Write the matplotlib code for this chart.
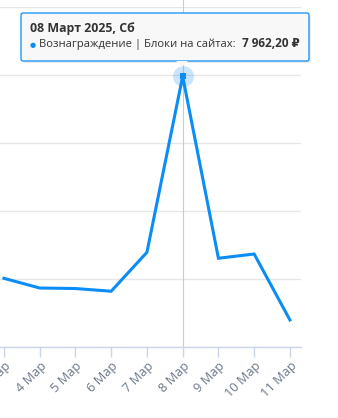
import matplotlib
matplotlib.use("Agg")
import matplotlib.pyplot as plt
from matplotlib.patches import FancyBboxPatch, Polygon

plt.rcParams['font.family'] = ['Open Sans', 'DejaVu Sans']

# data
dates = ['3 Мар', '4 Мар', '5 Мар', '6 Мар', '7 Мар', '8 Мар', '9 Мар', '10 Мар', '11 Мар']
reward = [2020, 1735, 1720, 1640, 2785, 7962.20, 2610, 2735, 795]
yticks = [0, 2000, 4000, 6000, 8000, 10000]
peak_idx = 5

blue = '#0b8df5'

fig = plt.figure(figsize=(3.38, 4.18), dpi=100)
W, H = 338, 418
ax = fig.add_axes([0 / W, (H - 347) / H, 301 / W, 340 / H])

x = list(range(len(dates)))
ax.plot(x, reward, color=blue, lw=2.2, solid_joinstyle='miter', zorder=3)

ax.set_xlim(-0.11, 8.31)
ax.set_ylim(0, 10000)
ax.set_yticks(yticks)
ax.yaxis.grid(True, color='#e6e6e6', lw=1)
ax.tick_params(axis='y', length=0, labelleft=False)
ax.set_xticks(x)
ax.set_xticklabels(dates, rotation=45, ha='right', va='top', rotation_mode='anchor',
                   fontsize=9.2, color='#6b7788')
ax.tick_params(axis='x', length=7, width=1, color='#ccd6eb', pad=2)
for s in ['top', 'right', 'left']:
    ax.spines[s].set_visible(False)
ax.spines['bottom'].set_color('#ccd6eb')
ax.spines['bottom'].set_linewidth(1)
ax.set_axisbelow(True)

# crosshair and hover marker
ax.axvline(peak_idx, color='#cccccc', lw=0.8, zorder=1, ymax=1.03, clip_on=False)
ax.plot([peak_idx], [reward[peak_idx]], 'o', ms=15, color=blue, alpha=0.22, mew=0, zorder=4)
ax.plot([peak_idx], [reward[peak_idx]], 's', ms=4, color=blue, mew=0, zorder=5)

# tooltip in pixel coordinates
ov = fig.add_axes([0, 0, 1, 1])
ov.set_xlim(0, W)
ov.set_ylim(H, 0)
ov.axis('off')
shadow = FancyBboxPatch((23, 15), 288, 48, boxstyle='round,pad=0,rounding_size=2',
                        fc='#000000', ec='none', alpha=0.08)
ov.add_patch(shadow)
box = FancyBboxPatch((21, 13), 288, 48, boxstyle='round,pad=0,rounding_size=2',
                     fc='#f8f8f8', ec=blue, lw=0.9)
ov.add_patch(box)
ov.add_patch(Polygon([[176, 61], [182, 67], [188, 61]], closed=True, fc='#f8f8f8', ec='none'))
ov.text(30, 32, '08 Март 2025, Сб', fontsize=8.9, fontweight='bold', color='#333333',
        va='baseline', ha='left')
ov.text(30, 47, '●', fontsize=5, color=blue, va='baseline', ha='left')
ov.text(39, 47, 'Вознаграждение | Блоки на сайтах:', fontsize=8.1, color='#333333',
        va='baseline', ha='left')
ov.text(300, 47, '7 962,20 ₽', fontsize=8.5, fontweight='bold', color='#333333',
        va='baseline', ha='right')

fig.savefig('out.png', dpi=100, facecolor='white')
